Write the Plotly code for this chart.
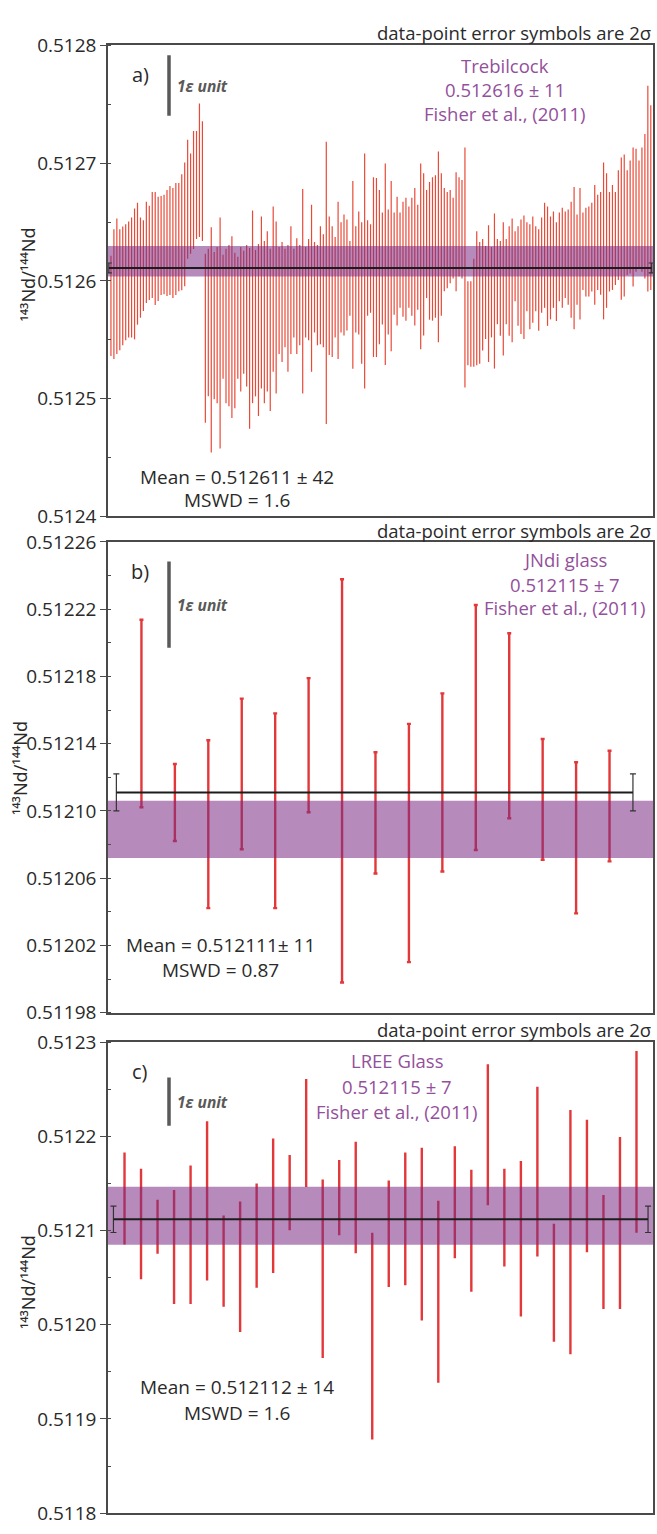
import plotly.graph_objects as go

W, H = 657, 1534
FONT = "Open Sans"

# ---------------- a) Trebilcock: three analytical sessions, 2-sigma bounds ----------------
a_lower_s1 = [0.5125361, 0.5125336, 0.5125378, 0.5125411, 0.5125453, 0.5125495, 0.5125520, 0.5125520,
              0.5125503, 0.5125628, 0.5125687, 0.5125745, 0.5125812, 0.5125837, 0.5125854, 0.5125795,
              0.5125829, 0.5125879, 0.5125887, 0.5125871, 0.5125879, 0.5125854, 0.5125879, 0.5125912,
              0.5125921, 0.5125954, 0.5126188, 0.5126230, 0.5126271, 0.5126355, 0.5126372, 0.5126338]
a_upper_s1 = [0.5126213, 0.5126438, 0.5126530, 0.5126438, 0.5126463, 0.5126480, 0.5126505, 0.5126539,
              0.5126614, 0.5126664, 0.5126539, 0.5126514, 0.5126672, 0.5126639, 0.5126756, 0.5126756,
              0.5126714, 0.5126722, 0.5126731, 0.5126772, 0.5126806, 0.5126789, 0.5126831, 0.5126831,
              0.5126906, 0.5127006, 0.5127198, 0.5127081, 0.5127273, 0.5127273, 0.5127507, 0.5127357]

a_lower_s2 = [0.5124794, 0.5125019, 0.5124543, 0.5124994, 0.5124961, 0.5124576, 0.5125169, 0.5124961,
              0.5124936, 0.5124835, 0.5124919, 0.5125169, 0.5125061, 0.5125211, 0.5125103, 0.5124743,
              0.5124961, 0.5125019, 0.5124852, 0.5125086, 0.5124961, 0.5125061, 0.5124894, 0.5125228,
              0.5125044, 0.5125378, 0.5125311, 0.5125437, 0.5125228, 0.5125378, 0.5125520, 0.5125378,
              0.5125453, 0.5125044, 0.5125520, 0.5125495, 0.5125228, 0.5125562, 0.5125453, 0.5125462,
              0.5125437, 0.5124785, 0.5125370, 0.5125353, 0.5125520, 0.5125336, 0.5125562, 0.5125537,
              0.5125578, 0.5125704, 0.5125253, 0.5125562, 0.5125545, 0.5125295, 0.5125086, 0.5125704,
              0.5125729, 0.5125353, 0.5125353, 0.5125462, 0.5125629, 0.5125286, 0.5125545, 0.5125403,
              0.5125712, 0.5125620, 0.5125771, 0.5125695, 0.5125662, 0.5125771, 0.5125704, 0.5125620,
              0.5125754, 0.5125420, 0.5125537, 0.5125854, 0.5125670, 0.5125662, 0.5125687, 0.5125478,
              0.5125704, 0.5125912, 0.5125938, 0.5125979, 0.5126021, 0.5125912, 0.5126038, 0.5126021,
              0.5125094]
a_upper_s2 = [0.5126230, 0.5126272, 0.5126455, 0.5126246, 0.5126288, 0.5126539, 0.5126221, 0.5126272,
              0.5126305, 0.5126380, 0.5126238, 0.5126205, 0.5126288, 0.5126255, 0.5126305, 0.5126280,
              0.5126597, 0.5126263, 0.5126313, 0.5126547, 0.5126338, 0.5126422, 0.5126272, 0.5126631,
              0.5126505, 0.5126288, 0.5126330, 0.5126272, 0.5126305, 0.5126464, 0.5126272, 0.5126363,
              0.5126305, 0.5126781, 0.5126288, 0.5126355, 0.5126647, 0.5126330, 0.5126305, 0.5126464,
              0.5126397, 0.5127182, 0.5126547, 0.5126464, 0.5126372, 0.5126672, 0.5126497, 0.5126564,
              0.5126522, 0.5126338, 0.5126848, 0.5126464, 0.5126589, 0.5126497, 0.5127081, 0.5126514,
              0.5126480, 0.5126881, 0.5126873, 0.5126773, 0.5126580, 0.5126998, 0.5126606, 0.5126848,
              0.5126580, 0.5126714, 0.5126580, 0.5126672, 0.5126706, 0.5126631, 0.5126706, 0.5126789,
              0.5126647, 0.5126998, 0.5126914, 0.5126773, 0.5126839, 0.5126881, 0.5126898, 0.5127098,
              0.5126914, 0.5126789, 0.5126756, 0.5126773, 0.5126706, 0.5126923, 0.5126881, 0.5126856,
              0.5127132]

a_lower_s3 = [0.5125284, 0.5125270, 0.5125270, 0.5125284, 0.5125297, 0.5125409, 0.5125506, 0.5125311,
              0.5125520, 0.5125255, 0.5125631, 0.5125534, 0.5125367, 0.5125631, 0.5125534, 0.5125478,
              0.5125826, 0.5125618, 0.5125548, 0.5125506, 0.5125743, 0.5125589, 0.5125645, 0.5125743,
              0.5125576, 0.5125729, 0.5125771, 0.5125618, 0.5125673, 0.5125771, 0.5125659, 0.5125826,
              0.5125771, 0.5125854, 0.5125798, 0.5125687, 0.5125589, 0.5125798, 0.5125673, 0.5125923,
              0.5125868, 0.5125868, 0.5125910, 0.5125798, 0.5125923, 0.5125882, 0.5125673, 0.5125771,
              0.5125910, 0.5125923, 0.5125965, 0.5126007, 0.5125840, 0.5125868, 0.5126049, 0.5126063,
              0.5125952, 0.5126077, 0.5126105, 0.5126077, 0.5126021, 0.5125910, 0.5125923]
a_upper_s3 = [0.5125996, 0.5125996, 0.5126188, 0.5126422, 0.5126330, 0.5126355, 0.5126297, 0.5126472,
              0.5126288, 0.5126572, 0.5126355, 0.5126338, 0.5126497, 0.5126355, 0.5126464, 0.5126530,
              0.5126422, 0.5126464, 0.5126522, 0.5126555, 0.5126497, 0.5126480, 0.5126547, 0.5126464,
              0.5126439, 0.5126539, 0.5126664, 0.5126631, 0.5126547, 0.5126589, 0.5126497, 0.5126580,
              0.5126622, 0.5126589, 0.5126606, 0.5126672, 0.5126798, 0.5126564, 0.5126789, 0.5126580,
              0.5126622, 0.5126631, 0.5126664, 0.5126814, 0.5126731, 0.5126756, 0.5127006, 0.5126914,
              0.5126756, 0.5126814, 0.5126756, 0.5126940, 0.5127048, 0.5127073, 0.5126940, 0.5127023,
              0.5127132, 0.5127123, 0.5127023, 0.5127132, 0.5127248, 0.5127658, 0.5127491]

a_lower = a_lower_s1 + a_lower_s2 + a_lower_s3
a_upper = a_upper_s1 + a_upper_s2 + a_upper_s3
a_mean, a_mean_err = 0.512611, 0.0000042
a_ref_band = (0.5126038, 0.5126296)

# ---------------- b) JNdi glass ----------------
b_upper = [0.5122137, 0.5121279, 0.5121420, 0.5121668, 0.5121580, 0.5121790, 0.5122378, 0.5121349,
           0.5121518, 0.5121699, 0.5122225, 0.5122057, 0.5121428, 0.5121290, 0.5121358]
b_lower = [0.5121022, 0.5120821, 0.5120422, 0.5120772, 0.5120422, 0.5120992, 0.5119980, 0.5120628,
           0.5120101, 0.5120640, 0.5120768, 0.5120957, 0.5120710, 0.5120391, 0.5120700]
b_mean, b_mean_err = 0.512111, 0.000011
b_ref_band = (0.512072, 0.512106)

# ---------------- c) LREE glass ----------------
c_upper = [0.5121828, 0.5121657, 0.5121327, 0.5121431, 0.5121692, 0.5122162, 0.5121160, 0.5121309,
           0.5121500, 0.5121977, 0.5121803, 0.5122611, 0.5121542, 0.5121751, 0.5121943, 0.5120978,
           0.5121531, 0.5121828, 0.5121880, 0.5121316, 0.5121897, 0.5121646, 0.5122767, 0.5121657,
           0.5121740, 0.5122527, 0.5121072, 0.5122280, 0.5122178, 0.5121379, 0.5121995, 0.5122906]
c_lower = [0.5120853, 0.5120484, 0.5120753, 0.5120220, 0.5120220, 0.5120471, 0.5120192, 0.5119924,
           0.5120394, 0.5120550, 0.5121003, 0.5121462, 0.5119646, 0.5120951, 0.5120759, 0.5118783,
           0.5120401, 0.5120419, 0.5120046, 0.5119385, 0.5120707, 0.5120352, 0.5121270, 0.5120620,
           0.5120088, 0.5120724, 0.5119820, 0.5119688, 0.5120769, 0.5120168, 0.5120168, 0.5120978]
c_mean, c_mean_err = 0.512112, 0.000014
c_ref_band = (0.512085, 0.5121466)

EPS = 1e-4  # one epsilon unit, relative

PURPLE_TXT = "#93509b"
BAND = "rgba(122,42,132,0.55)"
RED = "#e2383a"
AX = "#4a4a4a"
TXT = "#2a2a2a"


def py(p):
    return 1 - p / H


def px(p):
    return p / W


panels = [
    dict(key="", lower=a_lower, upper=a_upper, mean=a_mean, merr=a_mean_err, band=a_ref_band,
         yr=(0.5124, 0.5128), dtick=0.0001, fmt=".4f", xr=(0, 184.75), mx=(0.3, 184.3),
         top=33, bot=512, red="rgb(232,74,56)", thick=1.2, cap=0,
         letter="a)", eps_top=0.5127916, title_x=28, title_y=266,
         ref=["Trebilcock", "0.512616 \u00b1 11", "Fisher et al., (2011)"], ref_x=505, ref_y=[53, 78, 102],
         mean_txt=["Mean = 0.512611 \u00b1 42", "MSWD = 1.6"], mean_x=237, mean_y=[472, 495],
         note_y=20),
    dict(key="2", lower=b_lower, upper=b_upper, mean=b_mean, merr=b_mean_err, band=b_ref_band,
         yr=(0.51198, 0.51226), dtick=0.00004, fmt=".5f", xr=(0, 16.3), mx=(0.25, 15.7),
         top=538, bot=1017, red=RED, thick=2.4, cap=2,
         letter="b)", eps_top=0.5122483, title_x=20, title_y=768,
         ref=["JNdi glass", "0.512115 \u00b1 7", "Fisher et al., (2011)"], ref_x=565, ref_y=[556, 581, 605],
         mean_txt=["Mean = 0.512111\u00b1 11", "MSWD = 0.87"], mean_x=220, mean_y=[948, 973],
         note_y=526),
    dict(key="3", lower=c_lower, upper=c_upper, mean=c_mean, merr=c_mean_err, band=c_ref_band,
         yr=(0.5118, 0.5123), dtick=0.0001, fmt=".4f", xr=(0, 33), mx=(0.33, 32.7),
         top=1047, bot=1526, red=RED, thick=2.4, cap=0,
         letter="c)", eps_top=0.5122625, title_x=28, title_y=1291,
         ref=["LREE Glass", "0.512115 \u00b1 7", "Fisher et al., (2011)"], ref_x=397, ref_y=[1066, 1092, 1117],
         mean_txt=["Mean = 0.512112 \u00b1 14", "MSWD = 1.6"], mean_x=237, mean_y=[1398, 1424],
         note_y=1034),
]

fig = go.Figure()
annotations = []
shapes = []

for p in panels:
    xa, ya = "x" + p["key"], "y" + p["key"]
    idx = list(range(1, len(p["lower"]) + 1))
    mid = [(lo + hi) / 2 for lo, hi in zip(p["lower"], p["upper"])]
    half = [(hi - lo) / 2 for lo, hi in zip(p["lower"], p["upper"])]

    # analyses with 2-sigma error symbols
    fig.add_trace(go.Scatter(
        x=idx, y=mid, mode="markers", xaxis=xa, yaxis=ya,
        marker=dict(size=1, color="rgba(0,0,0,0)"),
        error_y=dict(type="data", array=half, visible=True, color=p["red"],
                     thickness=p["thick"], width=p["cap"]),
        hoverinfo="skip", showlegend=False))

    # published reference value band
    x0, x1 = p["xr"]
    lo, hi = p["band"]
    fig.add_trace(go.Scatter(
        x=[x0, x1, x1, x0, x0], y=[lo, lo, hi, hi, lo], mode="lines", fill="toself",
        fillcolor=BAND, line=dict(width=0), xaxis=xa, yaxis=ya,
        hoverinfo="skip", showlegend=False))

    # weighted mean with its uncertainty
    m0, m1 = p["mx"]
    fig.add_trace(go.Scatter(
        x=[m0, m1], y=[p["mean"], p["mean"]], mode="lines", xaxis=xa, yaxis=ya,
        line=dict(color="#1c1c1c", width=2),
        error_y=dict(type="data", array=[p["merr"], p["merr"]], visible=True,
                     color="#333333", thickness=1.2, width=3),
        hoverinfo="skip", showlegend=False))

    dom_y = [py(p["bot"]), py(p["top"])]
    fig.layout["xaxis" + p["key"]] = dict(
        domain=[px(108), px(653)], range=list(p["xr"]), showticklabels=False, ticks="",
        showgrid=False, zeroline=False, showline=True, mirror=True,
        linecolor=AX, linewidth=1.5, anchor=ya)
    fig.layout["yaxis" + p["key"]] = dict(
        domain=dom_y, range=list(p["yr"]), tick0=p["yr"][0], dtick=p["dtick"],
        tickformat=p["fmt"], ticks="outside", ticklen=6, tickwidth=1.2, tickcolor=AX,
        minor=dict(ticks="inside", ticklen=3, tickwidth=1, tickcolor=AX, dtick=p["dtick"] / 2,
                   showgrid=False),
        showgrid=False, zeroline=False, showline=True, mirror=True,
        linecolor=AX, linewidth=1.5, anchor=xa,
        tickfont=dict(family=FONT, size=19, color=TXT))

    # 1 epsilon scale bar
    eps = p["eps_top"] * EPS
    shapes.append(dict(type="line", xref="paper", yref=ya, x0=px(169), x1=px(169),
                       y0=p["eps_top"], y1=p["eps_top"] - eps,
                       line=dict(color="#595959", width=3.5)))
    annotations.append(dict(xref="paper", yref=ya, x=px(175), y=p["eps_top"] - eps / 2,
                            text="<b><i>1\u03b5 unit</i></b>", showarrow=False,
                            xanchor="left", yanchor="middle",
                            font=dict(family=FONT, size=15.5, color="#595959")))

    annotations.append(dict(xref="paper", yref="paper", x=px(140), y=py(p["top"] + 30),
                            text=p["letter"], showarrow=False, xanchor="center", yanchor="middle",
                            font=dict(family=FONT, size=20, color=TXT)))

    for t, yy in zip(p["ref"], p["ref_y"]):
        annotations.append(dict(xref="paper", yref="paper", x=px(p["ref_x"]), y=py(yy),
                                text=t, showarrow=False, xanchor="center", yanchor="middle",
                                font=dict(family=FONT, size=18.5, color=PURPLE_TXT)))
    for t, yy in zip(p["mean_txt"], p["mean_y"]):
        annotations.append(dict(xref="paper", yref="paper", x=px(p["mean_x"]), y=py(yy),
                                text=t, showarrow=False, xanchor="center", yanchor="middle",
                                font=dict(family=FONT, size=19, color=TXT)))

    annotations.append(dict(xref="paper", yref="paper", x=px(653), y=py(p["note_y"]),
                            text="data-point error symbols are 2\u03c3", showarrow=False,
                            xanchor="right", yanchor="middle",
                            font=dict(family=FONT, size=18.5, color=TXT)))

    annotations.append(dict(xref="paper", yref="paper", x=px(p["title_x"]), y=py(p["title_y"]),
                            text="\u00b9\u2074\u00b3Nd/\u00b9\u2074\u2074Nd", showarrow=False,
                            textangle=-90, xanchor="center", yanchor="middle",
                            font=dict(family="Noto Sans", size=18, color=TXT)))

fig.update_layout(width=W, height=H, margin=dict(l=0, r=0, t=0, b=0),
                  paper_bgcolor="white", plot_bgcolor="white",
                  annotations=annotations, shapes=shapes, showlegend=False)

fig.write_html("out.html")
